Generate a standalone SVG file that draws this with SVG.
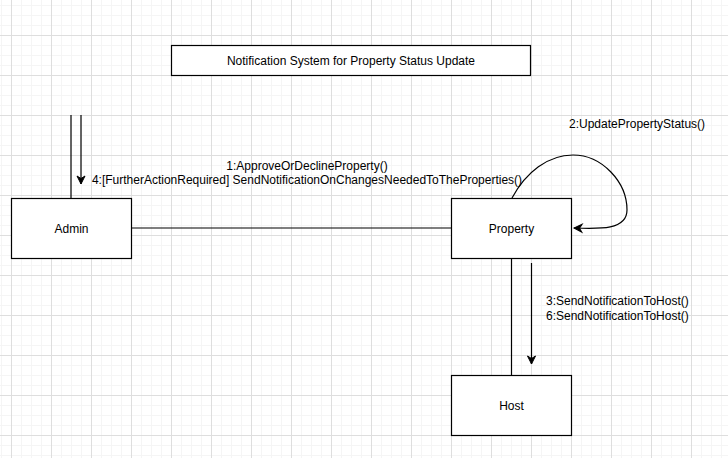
<svg xmlns="http://www.w3.org/2000/svg" width="728" height="458" viewBox="0 0 728 458">
  <defs>
    <!-- 10px minor / 40px major background grid -->
    <pattern id="grid" patternUnits="userSpaceOnUse" x="11" y="35" width="40" height="40">
      <rect x="0" y="0" width="40" height="40" fill="#ffffff"/>
      <rect x="10" y="0" width="1" height="40" fill="#f5f5f5"/>
      <rect x="20" y="0" width="1" height="40" fill="#f5f5f5"/>
      <rect x="30" y="0" width="1" height="40" fill="#f5f5f5"/>
      <rect x="0" y="10" width="40" height="1" fill="#f5f5f5"/>
      <rect x="0" y="20" width="40" height="1" fill="#f5f5f5"/>
      <rect x="0" y="30" width="40" height="1" fill="#f5f5f5"/>
      <rect x="0" y="0" width="1" height="40" fill="#dedede"/>
      <rect x="0" y="0" width="40" height="1" fill="#dedede"/>
    </pattern>
    <marker id="arrow" markerUnits="userSpaceOnUse" markerWidth="12" markerHeight="12" refX="8" refY="4" orient="auto" overflow="visible">
      <path d="M8,4 L0,0 L2.5,4 L0,8 Z" fill="#000000" stroke="#000000" stroke-width="1" stroke-linejoin="miter"/>
    </marker>
  </defs>
  <style>
    .box { fill: #ffffff; stroke: #000000; stroke-width: 1.2; }
    .edge { fill: none; stroke: #000000; stroke-width: 1.2; }
    .lbl { font-family: "Liberation Sans", Arial, sans-serif; font-size: 12px; fill: #000000; }
    .mid { text-anchor: middle; }
  </style>

  <rect x="0" y="0" width="728" height="458" fill="url(#grid)"/>

  <g id="title">
    <rect class="box" x="171.5" y="45.5" width="359" height="30"/>
    <text class="lbl mid" x="351" y="64.5">Notification System for Property Status Update</text>
  </g>

  <g id="connectors">
    <!-- Admin links -->
    <line class="edge" x1="71" y1="115" x2="71" y2="198"/>
    <line class="edge" x1="81" y1="115" x2="81" y2="184" marker-end="url(#arrow)"/>
    <line class="edge" x1="131" y1="228" x2="452" y2="228"/>
    <!-- Property self call -->
    <path class="edge" d="M512,198 C526,172 548,155 573,155 C602,155 627,182 627,210 C627,230 600,229 574,228" marker-end="url(#arrow)"/>
    <!-- Property to Host -->
    <line class="edge" x1="511.5" y1="258" x2="511.5" y2="375"/>
    <line class="edge" x1="531.5" y1="263" x2="531.5" y2="364" marker-end="url(#arrow)"/>
    <text class="lbl mid" x="307" y="170">1:ApproveOrDeclineProperty()</text>
    <text class="lbl mid" x="307" y="184">4:[FurtherActionRequired] SendNotificationOnChangesNeededToTheProperties()</text>
    <text class="lbl" x="569" y="127.5">2:UpdatePropertyStatus()</text>
    <text class="lbl" x="546" y="305">3:SendNotificationToHost()</text>
    <text class="lbl" x="546" y="319.5">6:SendNotificationToHost()</text>
  </g>

  <g id="admin">
    <rect class="box" x="11.5" y="198.5" width="120" height="60"/>
    <text class="lbl mid" x="71.5" y="232.5">Admin</text>
  </g>

  <g id="property">
    <rect class="box" x="451.5" y="198.5" width="120" height="60"/>
    <text class="lbl mid" x="511.5" y="232.5">Property</text>
  </g>

  <g id="host">
    <rect class="box" x="451.5" y="375.5" width="120" height="60"/>
    <text class="lbl mid" x="511.5" y="409.5">Host</text>
  </g>
</svg>
